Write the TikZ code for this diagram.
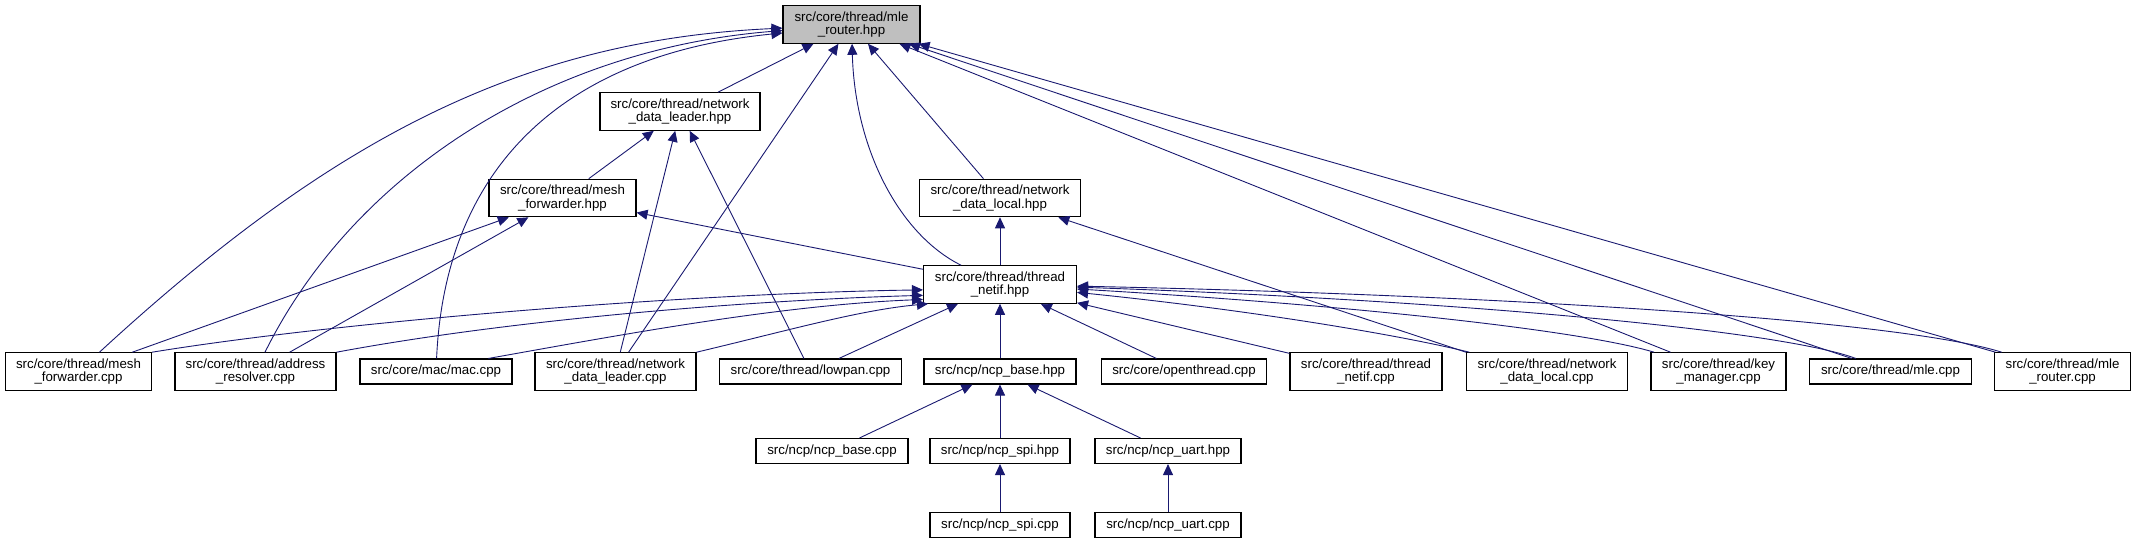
\documentclass[tikz,border=0pt]{standalone}
\usepackage{fontspec}
\setmainfont{Liberation Sans}
\usetikzlibrary{arrows.meta}
\definecolor{edgeblue}{RGB}{25,25,112}

\begin{document}
\begin{tikzpicture}[x=1pt, y=-1pt,
    file/.style={draw=black, line width=1.1pt, fill=white, inner sep=0pt,
                 minimum height=25pt, align=center,
                 font=\fontsize{13.3}{13.6}\selectfont},
    twoline/.style={minimum height=37.5pt},
    root/.style={fill=black!25},
    incl/.style={draw=edgeblue, line width=0.9pt,
                 -{Triangle[length=11pt, width=10pt]}},
]
\useasboundingbox (0,0) rectangle (2136,543);

% headers
\node[file, twoline, root, minimum width=137pt] (mlerh) at (851.5,24.5) {src/core/thread/mle\\\_router.hpp};
\node[file, twoline, minimum width=160pt] (ndlh)   at (680,111.5) {src/core/thread/network\\\_data\_leader.hpp};
\node[file, twoline, minimum width=147pt] (mfh)    at (562.5,198) {src/core/thread/mesh\\\_forwarder.hpp};
\node[file, twoline, minimum width=161pt] (ndloch) at (1000,198)  {src/core/thread/network\\\_data\_local.hpp};
\node[file, twoline, minimum width=153pt] (tnh)    at (1000,284.5) {src/core/thread/thread\\\_netif.hpp};

% first row
\node[file, twoline, minimum width=146pt] (mfcpp)    at (78.5,371.5)   {src/core/thread/mesh\\\_forwarder.cpp};
\node[file, twoline, minimum width=161pt] (arcpp)    at (255.5,371.5)  {src/core/thread/address\\\_resolver.cpp};
\node[file, minimum width=152pt]          (maccpp)   at (436,371.5)    {src/core/mac/mac.cpp};
\node[file, twoline, minimum width=161pt] (ndlcpp)   at (615.5,371.5)  {src/core/thread/network\\\_data\_leader.cpp};
\node[file, minimum width=182pt]          (lowcpp)   at (810.5,371.5)  {src/core/thread/lowpan.cpp};
\node[file, minimum width=152pt]          (ncpbh)    at (1000,371.5)   {src/ncp/ncp\_base.hpp};
\node[file, minimum width=165pt]          (otcpp)    at (1184,371.5)   {src/core/openthread.cpp};
\node[file, twoline, minimum width=152pt] (tncpp)    at (1366,371.5)   {src/core/thread/thread\\\_netif.cpp};
\node[file, twoline, minimum width=161pt] (ndloccpp) at (1547,371.5)   {src/core/thread/network\\\_data\_local.cpp};
\node[file, twoline, minimum width=135pt] (kmcpp)    at (1718.5,371.5) {src/core/thread/key\\\_manager.cpp};
\node[file, minimum width=162pt]          (mlecpp)   at (1890.5,371.5) {src/core/thread/mle.cpp};
\node[file, twoline, minimum width=136pt] (mlercpp)  at (2062.5,371.5) {src/core/thread/mle\\\_router.cpp};

% ncp part
\node[file, minimum width=152pt] (ncpbcpp)    at (832,451)  {src/ncp/ncp\_base.cpp};
\node[file, minimum width=140pt] (ncpspih)    at (1000,451) {src/ncp/ncp\_spi.hpp};
\node[file, minimum width=146pt] (ncpuarth)   at (1168,451) {src/ncp/ncp\_uart.hpp};
\node[file, minimum width=140pt] (ncpspicpp)  at (1000,525) {src/ncp/ncp\_spi.cpp};
\node[file, minimum width=146pt] (ncpuartcpp) at (1168,525) {src/ncp/ncp\_uart.cpp};

% -> mle_router.hpp
\draw[incl] (ndlh) -- (mlerh);
\draw[incl] (ndlcpp) -- (mlerh);
\draw[incl] (ndloch) -- (mlerh);
\draw[incl] (kmcpp) -- (mlerh);
\draw[incl] (mlecpp) -- (mlerh);
\draw[incl] (mlercpp) -- (mlerh);
\draw[incl] (tnh) .. controls (900,235) and (855,150) .. (mlerh);
\draw[incl] (mfcpp) .. controls (330,140) and (520,40) .. (mlerh.183);
\draw[incl] (arcpp) .. controls (350,180) and (540,50) .. (mlerh.185);
\draw[incl] (maccpp) .. controls (445,170) and (560,55) .. (mlerh.187);

% -> network_data_leader.hpp
\draw[incl] (mfh) -- (ndlh);
\draw[incl] (ndlcpp) -- (ndlh);
\draw[incl] (lowcpp) -- (ndlh);

% -> mesh_forwarder.hpp
\draw[incl] (mfcpp) -- (mfh);
\draw[incl] (arcpp) -- (mfh);
\draw[incl] (tnh) -- (mfh);

% -> network_data_local.hpp
\draw[incl] (tnh) -- (ndloch);
\draw[incl] (ndloccpp.north west) -- (ndloch);

% -> thread_netif.hpp
\draw[incl] (mfcpp.north east) .. controls (350,320) and (700,293) .. (tnh.184);
\draw[incl] (arcpp.north east) .. controls (520,318) and (760,300) .. (tnh.188);
\draw[incl] (maccpp.14) .. controls (620,335) and (780,305) .. (tnh.191);
\draw[incl] (ndlcpp.north east) .. controls (790,330) and (860,310) .. (tnh.195);
\draw[incl] (lowcpp) -- (tnh);
\draw[incl] (ncpbh) -- (tnh);
\draw[incl] (otcpp) -- (tnh);
\draw[incl] (tncpp) -- (tnh);
\draw[incl] (ndloccpp) .. controls (1400,335) and (1250,310) .. (tnh);
\draw[incl] (kmcpp) .. controls (1580,330) and (1350,305) .. (tnh);
\draw[incl] (mlecpp) .. controls (1780,330) and (1450,300) .. (tnh);
\draw[incl] (mlercpp) .. controls (1900,320) and (1500,295) .. (tnh);

% -> ncp_base.hpp etc.
\draw[incl] (ncpbcpp) -- (ncpbh);
\draw[incl] (ncpspih) -- (ncpbh);
\draw[incl] (ncpuarth) -- (ncpbh);
\draw[incl] (ncpspicpp) -- (ncpspih);
\draw[incl] (ncpuartcpp) -- (ncpuarth);

\end{tikzpicture}
\end{document}
